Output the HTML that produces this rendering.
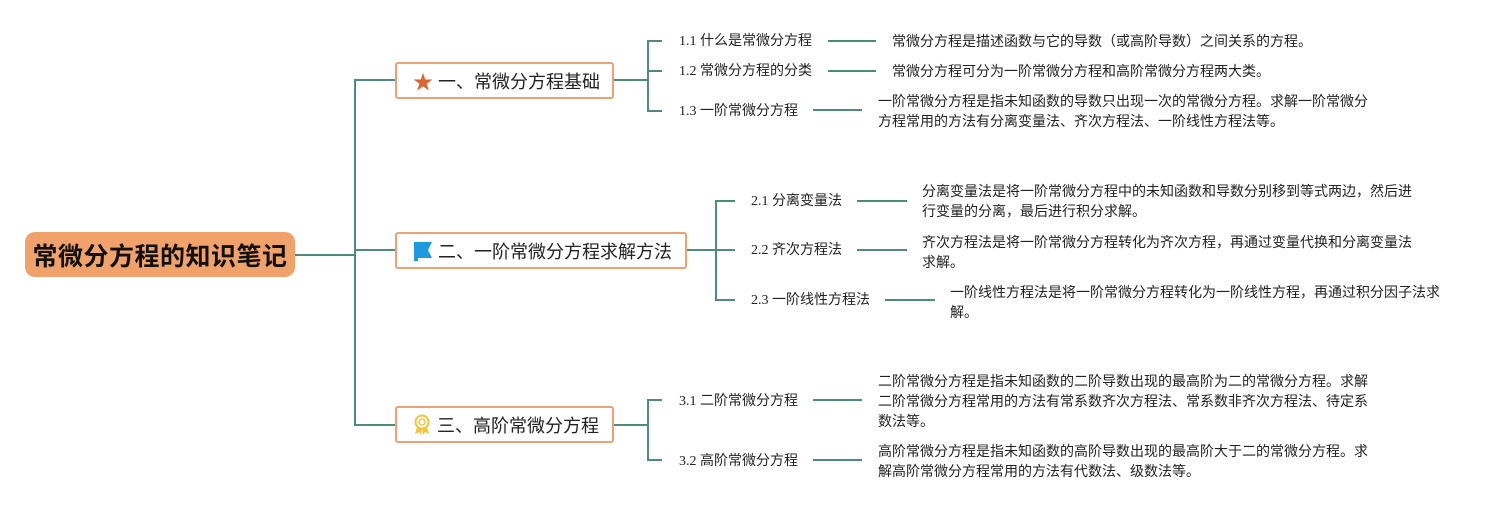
<!DOCTYPE html>
<html><head><meta charset="utf-8"><style>
body{margin:0;width:1510px;height:510px;background:#fff;position:relative;overflow:hidden;font-family:"Liberation Sans","Noto Sans CJK SC",sans-serif;}
.a{position:absolute;}
.l{position:absolute;background:#4f8b7c;}
.h{height:2px;}
.v{width:2px;}
.box{position:absolute;border:2px solid #e9a272;border-radius:3px;background:#fff;box-sizing:border-box;font-size:18px;color:#222;display:flex;align-items:center;padding-left:16px;}
.t{position:absolute;font-size:14px;color:#222;line-height:20px;white-space:nowrap;font-family:"Liberation Serif","Noto Sans CJK SC",serif;}
.d{position:absolute;font-size:14px;color:#222;line-height:20px;white-space:nowrap;}
</style></head><body>
<div class="a" style="left:25px;top:232px;width:270px;height:45px;background:#f0a26a;border-radius:10px;font-size:25px;letter-spacing:0.5px;font-weight:bold;color:#111;display:flex;align-items:center;justify-content:center;">常微分方程的知识笔记</div>
<div class="l h" style="left:295px;top:254px;width:61px"></div>
<div class="l v" style="left:354px;top:79px;height:347px"></div>
<div class="l h" style="left:354px;top:79px;width:42px"></div>
<div class="l h" style="left:354px;top:249px;width:42px"></div>
<div class="l h" style="left:354px;top:424px;width:42px"></div>

<div class="box" style="left:395px;top:62px;width:219px;height:37px;"><span style="color:#e0622f;font-size:20px;margin-right:5px">★</span>一、常微分方程基础</div>
<div class="box" style="left:395px;top:232px;width:292px;height:37px;"><svg width="20" height="20" style="margin-right:5px"><path d="M1 1H19L15 9L19 17H5V20H1Z" fill="#1e9be0"/></svg>二、一阶常微分方程求解方法</div>
<div class="box" style="left:395px;top:406px;width:219px;height:37px;"><svg width="18" height="22" style="margin-right:6px"><circle cx="9" cy="8" r="6.5" fill="none" stroke="#f3c53a" stroke-width="2"/><circle cx="9" cy="8" r="3" fill="none" stroke="#f3c53a" stroke-width="1.5"/><path d="M4 13L2 20L6 18L8 21L9 15M14 13L16 20L12 18L10 21L9 15" fill="#f3c53a"/></svg>三、高阶常微分方程</div>

<div class="l h" style="left:614px;top:79px;width:35px"></div>
<div class="l v" style="left:647px;top:40px;height:72px"></div>
<div class="l h" style="left:647px;top:40px;width:15px"></div>
<div class="l h" style="left:647px;top:70px;width:15px"></div>
<div class="l h" style="left:647px;top:110px;width:15px"></div>
<div class="t" style="left:679px;top:32px">1.1 什么是常微分方程</div>
<div class="t" style="left:679px;top:62px">1.2 常微分方程的分类</div>
<div class="t" style="left:679px;top:102px">1.3 一阶常微分方程</div>
<div class="l h" style="left:828px;top:40px;width:48px"></div>
<div class="l h" style="left:828px;top:70px;width:48px"></div>
<div class="l h" style="left:813px;top:109px;width:49px"></div>
<div class="d" style="left:892px;top:31px">常微分方程是描述函数与它的导数（或高阶导数）之间关系的方程。</div>
<div class="d" style="left:892px;top:61px">常微分方程可分为一阶常微分方程和高阶常微分方程两大类。</div>
<div class="d" style="left:878px;top:91px">一阶常微分方程是指未知函数的导数只出现一次的常微分方程。求解一阶常微分<br>方程常用的方法有分离变量法、齐次方程法、一阶线性方程法等。</div>

<div class="l h" style="left:687px;top:249px;width:30px"></div>
<div class="l v" style="left:715px;top:200px;height:101px"></div>
<div class="l h" style="left:715px;top:200px;width:20px"></div>
<div class="l h" style="left:715px;top:249px;width:20px"></div>
<div class="l h" style="left:715px;top:299px;width:20px"></div>
<div class="t" style="left:751px;top:192px">2.1 分离变量法</div>
<div class="t" style="left:751px;top:241px">2.2 齐次方程法</div>
<div class="t" style="left:751px;top:291px">2.3 一阶线性方程法</div>
<div class="l h" style="left:857px;top:200px;width:50px"></div>
<div class="l h" style="left:857px;top:249px;width:50px"></div>
<div class="l h" style="left:885px;top:299px;width:50px"></div>
<div class="d" style="left:922px;top:181px">分离变量法是将一阶常微分方程中的未知函数和导数分别移到等式两边，然后进<br>行变量的分离，最后进行积分求解。</div>
<div class="d" style="left:922px;top:232px">齐次方程法是将一阶常微分方程转化为齐次方程，再通过变量代换和分离变量法<br>求解。</div>
<div class="d" style="left:950px;top:282px">一阶线性方程法是将一阶常微分方程转化为一阶线性方程，再通过积分因子法求<br>解。</div>

<div class="l h" style="left:614px;top:424px;width:35px"></div>
<div class="l v" style="left:647px;top:399px;height:62px"></div>
<div class="l h" style="left:647px;top:399px;width:15px"></div>
<div class="l h" style="left:647px;top:459px;width:15px"></div>
<div class="t" style="left:679px;top:392px">3.1 二阶常微分方程</div>
<div class="t" style="left:679px;top:452px">3.2 高阶常微分方程</div>
<div class="l h" style="left:813px;top:399px;width:49px"></div>
<div class="l h" style="left:813px;top:459px;width:49px"></div>
<div class="d" style="left:878px;top:371px">二阶常微分方程是指未知函数的二阶导数出现的最高阶为二的常微分方程。求解<br>二阶常微分方程常用的方法有常系数齐次方程法、常系数非齐次方程法、待定系<br>数法等。</div>
<div class="d" style="left:878px;top:441px">高阶常微分方程是指未知函数的高阶导数出现的最高阶大于二的常微分方程。求<br>解高阶常微分方程常用的方法有代数法、级数法等。</div>
</body></html>
